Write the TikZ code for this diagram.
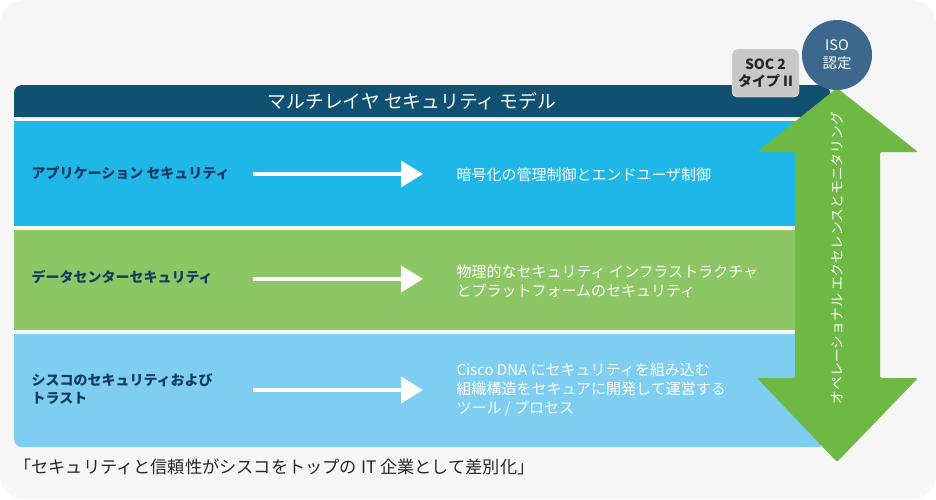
\documentclass[tikz,border=0pt]{standalone}
\usepackage{fontspec}
\setmainfont{Noto Sans CJK JP}
\usepackage{tikz}
\usetikzlibrary{arrows.meta}

\definecolor{pageGray}{RGB}{246,246,246}
\definecolor{barBlue}{RGB}{16,80,112}
\definecolor{appCyan}{RGB}{31,183,232}
\definecolor{dcGreen}{RGB}{141,198,101}
\definecolor{trustSky}{RGB}{125,206,241}
\definecolor{opsGreen}{RGB}{110,185,68}
\definecolor{isoBlue}{RGB}{61,104,142}
\definecolor{socGray}{RGB}{200,200,200}
\definecolor{labelNavy}{RGB}{23,58,94}

\begin{document}
\begin{tikzpicture}[x=1pt,y=-1pt,
    layer/.style={anchor=west,align=left,text=labelNavy,
      font=\bfseries\fontsize{14}{18}\selectfont},
    what/.style={anchor=west,align=left,text=white,
      font=\fontsize{15}{19}\selectfont},
    flow/.style={-{Triangle[length=22pt,width=26pt]},white,line width=4pt}]
   \useasboundingbox (0,0) rectangle (936,499);
   \fill[white] (0,0) rectangle (936,499);
   \fill[pageGray,rounded corners=24pt] (0,0) rectangle (936,499);

   % title bar and the three layers
   \fill[barBlue,rounded corners=8pt] (14,85) rectangle (830,117);
   \fill[barBlue] (14,100) rectangle (830,117);
   \fill[appCyan] (14,121) rectangle (826,226);
   \fill[dcGreen] (14,230) rectangle (826,330);
   \fill[trustSky,rounded corners=8pt] (14,334) rectangle (826,447);
   \fill[trustSky] (14,334) rectangle (40,400);

   \draw (412,101) node (title) [text=white,font=\fontsize{18.8}{22}\selectfont]
      {マルチレイヤ セキュリティ モデル};

   \draw (28,173) node[layer] (app) {アプリケーション セキュリティ};
   \draw (28,277) node[layer] (dc) {データセンターセキュリティ};
   \draw (28,389) node[layer] (trust) {シスコのセキュリティおよび\\トラスト};

   \draw (453,175) node[what] (appWhat) {暗号化の管理制御とエンドユーザ制御};
   \draw (453,281) node[what] (dcWhat)
      {物理的なセキュリティ インフラストラクチャ\\とプラットフォームのセキュリティ};
   \draw (453,390) node[what] (trustWhat)
      {Cisco DNA にセキュリティを組み込む\\組織構造をセキュアに開発して運営する\\ツール / プロセス};

   \coordinate (appFrom) at (253,174);   \coordinate (appTo) at (423,174);
   \coordinate (dcFrom) at (253,279);    \coordinate (dcTo) at (423,279);
   \coordinate (trustFrom) at (253,390); \coordinate (trustTo) at (423,390);

   \path[flow] (appFrom) edge (appTo);
   \path[flow] (dcFrom) edge (dcTo);
   \path[flow] (trustFrom) edge (trustTo);

   % operations arrow on the right
   \fill[opsGreen,rounded corners=2pt] (837,88) -- (918,152) -- (880,152)
      -- (880,378) -- (918,378) -- (837,462) -- (757,378) -- (795,378)
      -- (795,152) -- (757,152) -- cycle;
   \draw (837,258) node (ops) [rotate=90,text=white,font=\fontsize{13.8}{16}\selectfont]
      {オペレーショナル エクセレンスとモニタリング};

   \draw (765.5,73) node (soc) [fill=socGray,draw=white,rounded corners=5pt,
      minimum width=67pt,minimum height=48pt,align=center,text=black!85,
      font=\bfseries\fontsize{14}{17}\selectfont] {SOC 2\\タイプ II};
   \draw (837,55) node (iso) [circle,fill=isoBlue,minimum size=70pt,inner sep=0pt,
      align=center,text=white,font=\fontsize{14.5}{18}\selectfont] {ISO\\認定};

   \draw (14,467) node (motto) [anchor=west,inner sep=0pt,text=black!85,
      font=\fontsize{17.2}{20}\selectfont]
      {「セキュリティと信頼性がシスコをトップの IT 企業として差別化」};
\end{tikzpicture}
\end{document}
